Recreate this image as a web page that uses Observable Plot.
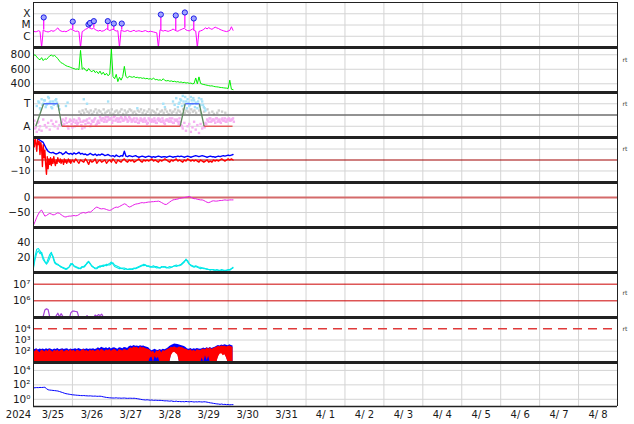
<!DOCTYPE html>
<html><head><meta charset="utf-8">
<script src="https://cdn.jsdelivr.net/npm/d3@7"></script>
<script src="https://cdn.jsdelivr.net/npm/@observablehq/plot@0.6"></script>
<style>
html,body{margin:0;padding:0;background:#fff;}
#chart{width:634px;}
#chart svg{display:block;}
</style></head>
<body><div id="chart"></div>
<script>
const _ = null;
// All series: hourly samples from 2024-03-25 00 UT unless noted
// Panel 1: X-ray flux, units of 1e-6 W/m2 (C1 = 1)
const xray = [2.8,2.5,2.6,3.1,2.7,0.01,3.6,2.9,2.6,2.4, 2.7,3.2,2.8,3.0,4.2,5.5,3.4,2.9,2.6,2.8, 2.5,3.0,3.6,4.5,3.8,3.1,2.7,2.9,2.5,0.01, 2.6,3.2,4.1,4.8,6.2,5.0,4.4,5.3,4.0,3.3, 2.9,3.4,2.8,3.0,3.5,4.6,3.9,3.2,3.7,4.3, 3.4,2.9,3.1,0.01,3.6,3.0,2.7,2.9,3.3,2.8, 2.6,3.0,3.4,2.7,2.9,3.1,2.8,2.6,2.9,3.2, 2.7,2.5,2.8,2.6,2.4,2.2,2.0,0.01,3.8,3.2, 2.9,3.3,3.0,2.7,3.1,3.5,4.4,3.6,3.0,2.8, 3.4,3.9,4.6,5.1,3.7,3.2,3.0,3.6,4.4,3.3, 2.9,0.01,2.7,3.0,3.4,4.2,5.6,4.5,5.8,4.8, 4.1,5.2,6.4,5.5,4.9,4.0,3.5,3.1,2.8,2.6, 2.9,3.3,7.0,3.4];
const flareHours = [6.3, 24.2, 33.9, 34.8, 37.2, 45.8, 49.5, 54.4, 78.5, 87.7, 93.3, 98.8];
const flarePeaks = [47, 20, 11, 15, 22, 22, 13.5, 13.5, 85, 70, 130, 38];
const xrayTicks = [100, 10, 1];
const xrayClasses = ["X", "M", "C"];

// Panel 2: solar wind speed (km/s)
const windSpeed = [790,800,770,745,730,760,720,745,735,760, 785,795,780,790,770,745,715,690,680,665, 650,640,635,625,615,610,600,605,595,860, 600,620,590,575,610,580,565,590,555,570, 540,575,530,560,520,545,510,535,880,500, 470,530,430,490,450,500,640,500,480,505, 495,490,500,485,490,480,485,475,480,470, 475,465,470,460,480,455,460,450,455,445, 470,445,440,445,435,440,430,435,425,430, 420,425,415,420,410,415,405,410,400,405, 480,400,495,405,395,390,385,380,375,370, 372,365,360,358,355,350,348,345,342,340, 335,450,325,320];
const windTicks = [800, 600, 400];

// Panel 3: IMF sector (T = +10, A = -10)
const sectorHours = [1.4, 6.2, 15, 17.5, 90.4, 93.5, 102.2, 105.2, 122.7];
const sectorValues = [-10, 10, 10, -10, -10, 10, 10, -10, -10];
const awayA = [-8,-12,-15,-6,-10,-14,-4,-9,-11,-7,-13,-5,-8,-10,-6,-12,-9,-7, -4,-8,-3,-10,-6,-5,-11,-4,-7,-9,-3,-6,-12,-5,-8,-4,-7,-10,-5,-6,-3,-8,-5, -2,-5,-3,-4,-6,-2,-4,-3,-5,-1,-4,-6,-3,-2,-5,-4,-3,-6,-2,-4, -5,-3,-6,-4,-7,-3,-5,-4,-6,-8,-3,-5,-4,-6,-5,-7,-3,-4,-6,-5,-8,-4,-5,-3,-6,-7,-4,-5,-6,-3, -9,-12,-7,-14,-10,-8,-15,-11,-6,-13,-9,-16,-8,-12,-10,-7, -4,-6,-3,-5,-4,-7,-3,-5,-6,-4,-5,-3,-6,-4,-5,-4,-3];
// half-hour offset samples
const awayB = [-5,-11,-7,-13, _,_,_,_,_,_,_,_,_,_,_,_,_, -6,-9,-5,-7,-12,-4,-8,-6,-10,-5,-7,-4,-9,-6,-11,-5,-7,-3,-8,-6,-4,-9,-6,-7, -4,-3,-6,-2,-5,-4,-3,-7,-2,-5,-3,-4,-6,-3,-5,-2,-4,-5,-3,-6, -4,-6,-3,-7,-5,-4,-6,-3,-5,-7,-4,-6,-5,-3,-7,-4,-5,-6,-3,-7,-5,-4,-6,-5,-3,-7,-5,-4,-8,-6,-10, _,_,_,_,_,_,_,_,_,_,_,_,_, -11,-8,-5,-3,-6,-4,-5,-3,-6,-4,-7,-3,-5,-6,-4,-3,-5,-4,-6];
const towardA = [_,_, 8,12,6,14,10,13,9,16,11,7,12,10,14,8,5, _,_,_, 8,11, _,_,_,_,_,_,_,_,_, 14,_,10, _,_,_,_,_,_,_,_,_,_,_,_, 12, _,_,_,_,_,_,_,_,_,_,_,_,_,_,_,_,_, 6, _,_,_,_,_,_,_,_,_,_,_,_,_,_,_, 10,7, _,_,_,_, 12,9,15,7,11,13,17,9,12,14,8,16,10,13,11,6,15,9,12,7,4, _,_,_,_,_,_,_,_,_,_,_,_,_,_,_,_,_];
const towardB = [_,_,_, 11,5,9,13,7,10,15,12,6,9,13,11,8, _,_,_,_,_,_,_,_,_,_,_,_,_,_,_,_,_,_,_,_,_,_,_,_,_,_,_,_,_,_,_,_,_,_,_,_,_,_,_,_,_,_,_,_,_,_,_,_,_,_,_,_,_,_,_,_,_,_,_,_,_,_,_,_,_,_,_,_,_,_,_,_,_, 10,14,8,12,16,6,11,9,13,15,7,10,12,8,14,9,6, _,_,_,_,_,_,_,_,_,_,_,_,_,_,_,_,_,_];
const mixedA = [_,_,_,_,_,_,_,_,_,_,_,_,_,_,_,_,_,_,_,_,_,_,_,_,_,_,_,_, 3,1,4,2,5,3,2,4,1,3, 5,2,4,3,1,5,2,3,4,2, 5,1,3,4,2,3,5,1,4,2, 3,5,4,2,3,1,4,3,5,2, 4,1,3,5,2,4,3,2,5,1, 3,4,2,5,3,1,4,2,3,5, 2,4,3,1,5,2,4,3,2,5, 3,4,2, _,4,2,_,3,_,5,2,_,3,1,_,2,4,_,3,_,2,_,_,_,_,_];

// Panel 4: IMF Bt and Bz (nT)
const bt = [22,21,20,19, 18,17,16, 13, 10, 8, 7, 6.5,7,6,5.5,6,7,6.5,5,6,7.5,6,5.5,6,5,6.5,5.5,6,7,5.5,6, 5,5.5,4.5,5,6,5,4.5,5.5,4,5,4.5,5.5,5,4,4.5,5, 4,3.5,4,3,4.5,3.5,3,4,3.5,8, 3.5,3,4,3.5,3,3.5,4,3,2.5,3,3.5,3,2.5,3,3.5,3,2.5,3,2.5,3,3.5,3,2.5,3,3,2.5,3,3.5,3,2.5,3,3,3.5,3, 3.5,3,2.5,3,3.5,3,2.5,3,3.5,4,3.5,3,3.5,4,3.5,3,2.5,3,3.5,3,3,2.5,3,3.5,3,3.5,4,3.5,4,4.5,4,4.5,5];
const bzFirstDay = [18,12,20,15,8,19,14,17,5,16,11,-6, 14,2,9,-4, -13,3,-8,1, -4,2,-5,1,-3,3,-2,-5,0,-3,2,-1, -2,1,-3,0,-1,-4,1,-2,0,-3,-1,1,-2,0,-3,-1]; // half-hourly, 00-24 UT 3/25
const bzLater = [0,-2,1,-1,-3,0,-1,-2,1,-1,-4,0,-2,-1,1,-3,-1,0,-2,-1,0,-3, -1,0,-2,1,-1,-3,0,-1,-2,0,1,-1,-2,0,-1,0,-2,-1,0,1,-1,-2,0,-1,0, -1,0,1,-1,0,-1,-2,0,-1,0,1,0,-1,-2,0,-1,0,1,-1,0,-1,-2,0,-1,1,0,-1,0,-1,0, -1,-2,0,-1,-2,-1,0,-2,-1,-2,0,-1,0,-1,0,1,0,-1,0,1,0,1,0]; // hourly from 3/26 00 UT
const bTicks = [10, 0, -10];

// Panel 5: Dst (nT)
const dst = [-92,-80,-66,-55,-46,-42,-52,-62,-60,-56, -53,-55,-58,-57,-54,-51,-53,-57,-61,-64, -65,-63,-62,-62,-61,-60,-61,-60,-57,-53, -51,-50,-52,-50,-48,-49,-45,-40,-35,-32, -34,-37,-38,-37,-38,-40,-42,-43,-41,-37, -34,-32,-33,-30,-27,-24,-21,-23,-28,-32, -30,-27,-24,-22,-21,-20,-18,-17,-18,-17, -16,-15,-15,-14,-14,-13,-13,-12,-14,-17, -20,-23,-23,-19,-15,-11,-8,-7,-6,-5, -3,-2,-1,0,1,2,4,1,-2,-4, -4,-6,-7,-8,-8,-10,-13,-16,-17,-15, -12,-11,-12,-12,-11,-10,-10,-9,-8,-9, -9,-8,-8,-8];

// Panel 6: two cyan indices
const cyanA = [8,22,31,32,29,24,17,14,12,18, 24,27,20,13,11,10,9,8,6,5, 4,5,8,12,11,8,7,6,5,6, 8,7,9,13,15,11,8,7,6,6, 8,7,9,8,10,9,11,12,14,11, 8,7,6,5,6,5,4,5,4,4, 5,4,5,6,7,8,9,10,9,10, 9,8,7,8,9,7,6,7,6,7, 8,7,6,7,8,7,8,9,8,9, 10,11,13,15,17,16,12,9,8,7, 8,7,6,5,6,5,5,4,4,3, 4,3,3,3,3,2,3,3,2,3, 3,3,5,7];
const cyanB = [6,18,26,29,25,27,20,15,11,14,19, 25,22,15,12,11,9,7,7,6,5, 6,7,10,12,9,8,7,6,5,7, 8,10,12,14,12,9,7,5,5,7, 9,8,10,9,11,10,10,12,13,10, 9,8,7,5,6,6,5,4,5,4, 5,6,5,6,7,8,9,11,10,8, 9,8,7,7,8,8,6,6,8,7, 8,7,6,6,7,8,9,10,9,9, 10,12,14,18,14,11,10,9,8,9, 8,7,7,6,6,5,5,4,4,4, 4,3,4,3,3,4,3,3,3,4, 4,5,6];
const cyanTicks = [40, 20];

// Panel 7: purple flux (log)
const purple = [5e4,5e4,5e4,5e4,5e4,6e4,1.2e5,2.8e5,3.3e5,3.0e5, 1.1e5,6e4,5e4,6e4,1.3e5,1.8e5,1.1e5,1.7e5,1.2e5,6e4, 5e4,5e4,8e4,1.9e5,2.4e5,2.4e5,2.3e5,2.2e5,1.0e5,6e4, 5e4,6e4,9e4,1.3e5,8e4,5e4,6e4,9e4,1.4e5,1.2e5, 1.5e5,1.3e5,1.6e5,1.1e5,7e4,5e4];
const purpleTicks = [1e7, 1e6];

// Panel 8: electron flux hourly envelopes (blue, red)
const redHi = [120,90,140,100,75,130,110,85,125,95,140,105,80,120,100,130,90,115,135,85,110,125,95,140,100,120,85,130,110,95,125,140,100,115,90,130,105,120,95, 110,140,100,150,120,95,135,110,145,100,125,150,115,90,140,120,105,145,130,110, 160,210,180,240,200,230,170,250,190,220,180,160,140, 120,80,100,60,110,90,130,70,115,100,125,150, 180,230,200,250,210,190,240,220,200,170,150, 130,110,140,100,125,95,135,120,110,140, 160,130,190,150,200,140,180,210, 230,280,250,300,260,290,240,270,300,250,220];
const redLo = [10,10,10,10,10,10,10,10,10,10, 10,10,10,10,10,10,10,10,10,10, 10,10,10,10,10,10,10,10,10,10, 10,10,10,10,10,10,10,10,10,10, 10,10,10,10,10,10,10,10,10,10, 10,10,10,10,10,10,10,10,10,10, 10,10,10,10,10,10,10,10,10,10, 10,10, 25,30,10,35,20,30,10,10, 10,10,10,10, 10,40,70,80,60,45,10, 10,10,10,10,10,10,10,10,10,10,10,10,10, 25,10,40,15,35,10,10, 10,10,10, 30,55,60,40,50,25,10, 10,10,10];
const blueHi = [150,140,170,130,160,145,155,135,165,140,170,150,130,160,145,175,135,150,165,140,155,170,130,160,145,150,165,140,175,150,135,160,145,170,140,155,150,165,145, 160,200,170,230,190,180,210,170,220,160,190,210,180,150,200,190,170,215,200,175, 250,300,270,320,280,300,260,310,280,290,250,230,200, 140,110,130,150,120,115,140,125,150,135,160,190, 260,320,380,450,420,400,360,330,300,260,220, 160,150,180,140,170,150,175,160,150,170, 190,170,210,180,220,175,200,230, 280,330,300,360,320,380,340,310,370,330,290];
const blueLo = [10,10,10,10,10,10,10,10,10,10, 10,10,10,10,10,10,10,10,10,10, 10,10,10,10,10,10,10,10,10,10, 10,10,10,10,10,10,10,10,10,10, 10,10,10,10,10,10,10,10,10,10, 10,10,10,10,10,10,10,10,10,10, 10,10,10,10,10,10,10,10,10,10, 10,10,10,10,10,10,10,10,10,10, 10,10,10,10,10, 50,80,90,70,55, 10,10,10,10,10,10,10,10,10,10,10,10,10,10,10,10,10,10,10,10,10,10,10,10, 40,65,75,50,55,30, 10,10,10,10];
const elecTicks = [1e4, 1e3, 1e2];

// Panel 9: blue flux (log)
const lowFlux = [38,40,42,41,44,43,45,46,30,21, 19,18,17,16,15,14,12,10,8.5,7, 6,5.5,5,4.6,4.2,4,3.8,3.6,3.5,3.3, 3.2,3.3,3.1,3,2.9,3,2.8,2.7,2.8,2.6, 2.6,2.7,2.5,2.2,2,1.8,1.7,1.6,1.55,1.5, 1.5,1.6,1.45,1.5,1.4,1.45,1.5,1.4,1.35,1.4, 1.4,1.35,1.4,1.3,1.2,1.1,1.0,0.9,0.85,0.8, 0.85,0.8,0.75,0.8,0.7,0.75,0.72,0.7,0.72,0.68, 0.65,0.6,0.62,0.58,0.55,0.6,0.52,0.5,0.55,0.48, 0.5,0.46,0.48,0.45,0.5,0.47,0.44,0.48,0.46,0.42, 0.45,0.43,0.46,0.44,0.42,0.45,0.44,0.4,0.36,0.32, 0.3,0.27,0.25,0.23,0.22,0.2,0.22,0.19,0.2,0.18, 0.19,0.17,0.18,0.18];
const lowTicks = [1e4, 1e2, 1];

// ---------------------------------------------------------------
const FONT = "'DejaVu Sans', Verdana, sans-serif";
const X0 = new Date(Date.UTC(2024, 2, 25)), X1 = new Date(Date.UTC(2024, 3, 9));
const days = d3.utcDay.range(X0, d3.utcDay.offset(X1, 1));
const noons = d3.utcDay.range(X0, X1).map(d => d3.utcHour.offset(d, 12));
const hr = h => new Date(X0.getTime() + h * 3600000);
const series = (arr, start = 0, step = 1) => arr.map((v, i) => ({t: hr(start + i * step), v}));
const sup = {"0":"⁰","1":"¹","2":"²","3":"³","4":"⁴","5":"⁵","6":"⁶","7":"⁷"};
const pow10 = d => "10" + String(Math.round(Math.log10(d))).split("").map(c => sup[c]).join("");
const num = d => d < 0 ? "−" + (-d) : String(d);

function panel({height, marginTop = 0, marginBottom = 0, y, ticks, fmt, grid = ticks, marks, rt = null, topW = 3, botW = 3, extra = [], labelSize = 10.5}) {
  const dom = y.domain;
  return Plot.plot({
    width: 634, height, marginLeft: 33, marginRight: 17, marginTop, marginBottom,
    style: {fontFamily: FONT, fontSize: "11px", color: "#1a1a1a", background: "#fff", overflow: "visible"},
    x: {type: "utc", domain: [X0, X1], axis: null},
    y: {...y, axis: null},
    marks: [
      Plot.ruleX(days, {stroke: "#d4d4d4"}),
      Plot.ruleY(grid, {stroke: "#d4d4d4"}),
      ...marks,
      Plot.ruleX([X0, X1], {stroke: "#222"}),
      Plot.ruleY([dom[1]], {stroke: "#222", strokeWidth: topW}),
      Plot.ruleY([dom[0]], {stroke: "#222", strokeWidth: botW}),
      Plot.text(ticks, {y: d => d, text: fmt, frameAnchor: "left", textAnchor: "end", dx: -3, fontSize: labelSize, fill: "#1a1a1a"}),
      rt != null ? Plot.text(["rt"], {text: d => d, frameAnchor: "top-right", textAnchor: "start", dx: 5, dy: rt, fontSize: 6, fill: "#333"}) : null,
      ...extra
    ].filter(Boolean)
  });
}

const chart = document.getElementById("chart");

// 1 X-ray
const flares = flareHours.map((h, i) => ({t: hr(h), peak: flarePeaks[i], base: xray[Math.round(h)]}));
chart.append(panel({
  height: 47, marginTop: 2, topW: 1,
  y: {type: "log", domain: [0.1, 1000], clamp: true},
  ticks: xrayTicks, fmt: (d, i) => xrayClasses[i],
  marks: [
    Plot.line(series(xray), {x: "t", y: "v", stroke: "#ff00ff", strokeWidth: 1, clip: true}),
    Plot.ruleX(flares, {x: "t", y1: "base", y2: "peak", stroke: "#ff00ff", strokeWidth: 1.2}),
    Plot.dot(flares, {x: "t", y: "peak", r: 2.6, fill: "#a0a4ff", stroke: "#1c1ce6", strokeWidth: 1})
  ]
}));

// 2 Solar wind
chart.append(panel({
  height: 45, y: {domain: [280, 900]},
  ticks: windTicks, fmt: num, rt: 10,
  marks: [Plot.line(series(windSpeed), {x: "t", y: "v", stroke: "#00ee00", strokeWidth: 1, clip: true})]
}));

// 3 Sector
const segs = sectorHours.slice(1).map((h, i) => ({t1: hr(sectorHours[i]), v1: sectorValues[i], t2: hr(h), v2: sectorValues[i + 1]}));
const dotOpts = (fill) => ({x: "t", y: "v", fill, r: 1.35, symbol: "square", clip: true});
chart.append(panel({
  height: 45, y: {domain: [-20, 20]},
  ticks: [10, -10], fmt: (d, i) => ["T", "A"][i], rt: 9,
  marks: [
    Plot.dot(series(mixedA, 0.25), dotOpts("#cdcdcd")),
    Plot.dot(series(towardA), dotOpts("#a6e2f8")),
    Plot.dot(series(towardB, 0.5), dotOpts("#a6e2f8")),
    Plot.dot(series(awayA), dotOpts("#f6b0f2")),
    Plot.dot(series(awayB, 0.5), dotOpts("#f6b0f2")),
    Plot.ruleY([0], {stroke: "#6e6e6e", strokeWidth: 1.3}),
    Plot.link(segs, {filter: d => d.v1 !== d.v2, x1: "t1", y1: "v1", x2: "t2", y2: "v2", stroke: "#5e8a5e", strokeWidth: 1.3}),
    Plot.link(segs, {filter: d => d.v1 === d.v2 && d.v1 > 0, x1: "t1", y1: "v1", x2: "t2", y2: "v2", stroke: "#4466ff", strokeWidth: 1.3}),
    Plot.link(segs, {filter: d => d.v1 === d.v2 && d.v1 < 0, x1: "t1", y1: "v1", x2: "t2", y2: "v2", stroke: "#e24a4a", strokeWidth: 1.3})
  ]
}));

// 4 IMF
const bz = series(bzFirstDay, 0, 0.5).concat(series(bzLater, 24));
chart.append(panel({
  height: 45, y: {domain: [-20.5, 20.5]}, labelSize: 9.5,
  ticks: bTicks, fmt: num, grid: [10, -10], rt: 9,
  marks: [
    Plot.ruleY([0], {stroke: "#a00000", strokeWidth: 1}),
    Plot.line(bz, {x: "t", y: "v", stroke: "#ff0000", strokeWidth: 1.4, clip: true}),
    Plot.line(series(bt), {x: "t", y: "v", stroke: "#0000ff", strokeWidth: 1.4, clip: true})
  ]
}));

// 5 Dst
chart.append(panel({
  height: 45, y: {domain: [-100, 50]},
  ticks: [0, -50], fmt: num,
  marks: [
    Plot.ruleY([0], {stroke: "#d46a6a", strokeWidth: 2}),
    Plot.line(series(dst), {x: "t", y: "v", stroke: "#e81ee8", strokeWidth: 1, clip: true})
  ]
}));

// 6 cyan
chart.append(panel({
  height: 45, y: {domain: [0, 60]},
  ticks: cyanTicks, fmt: num,
  marks: [
    Plot.line(series(cyanA), {x: "t", y: "v", stroke: "#00e8e8", strokeWidth: 1.1, clip: true}),
    Plot.line(series(cyanB), {x: "t", y: "v", stroke: "#00e8e8", strokeWidth: 1.1, clip: true})
  ]
}));

// 7 purple
chart.append(panel({
  height: 45, y: {type: "log", domain: [1e5, Math.pow(10, 7.7)]},
  ticks: purpleTicks, fmt: pow10, grid: [], rt: 18,
  marks: [
    Plot.ruleY(purpleTicks, {stroke: "#cc0000", strokeWidth: 1}),
    Plot.line(series(purple), {x: "t", y: "v", stroke: "#a23ed6", strokeWidth: 1.2, clip: true})
  ]
}));

// 8 electrons
const elec = redHi.map((v, i) => ({t: hr(i), rhi: v, rlo: redLo[i], bhi: blueHi[i], blo: blueLo[i]}));
chart.append(panel({
  height: 45, y: {type: "log", domain: [10, 1e5]}, labelSize: 9.5,
  ticks: elecTicks, fmt: pow10, grid: [1e3, 1e2], rt: 9,
  marks: [
    Plot.ruleY([1e4], {stroke: "#e03a3a", strokeWidth: 1.5, strokeDasharray: "9,6"}),
    Plot.areaY(elec, {x: "t", y1: "blo", y2: "bhi", fill: "#0000ff", clip: true}),
    Plot.areaY(elec, {x: "t", y1: "rlo", y2: "rhi", fill: "#ff0000", clip: true})
  ]
}));

// 9 low flux + time axis
chart.append(panel({
  height: 62, marginBottom: 18, botW: 1.5,
  y: {type: "log", domain: [0.1, Math.pow(10, 5.1)]},
  ticks: lowTicks, fmt: pow10,
  marks: [Plot.line(series(lowFlux), {x: "t", y: "v", stroke: "#0000ff", strokeWidth: 1, clip: true})],
  extra: [
    Plot.text(noons, {x: d => d, text: d => `${d.getUTCMonth() + 1}/${String(d.getUTCDate()).padStart(2, " ")}`, frameAnchor: "bottom", dy: 11, fontSize: 10, fill: "#1a1a1a"}),
    Plot.text(["2024"], {text: d => d, frameAnchor: "bottom-left", textAnchor: "middle", dx: -15, dy: 11, fontSize: 10, fill: "#1a1a1a"})
  ]
}));
</script>
</body></html>
